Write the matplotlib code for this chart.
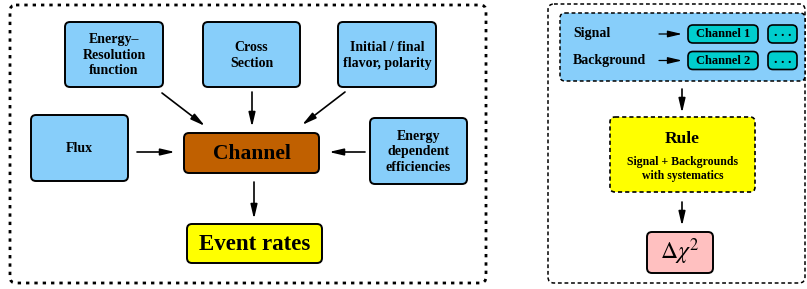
import numpy as np
import matplotlib
matplotlib.use("Agg")
import matplotlib.pyplot as plt
from matplotlib.patches import FancyBboxPatch

plt.rcParams['font.family'] = ['Liberation Serif', 'DejaVu Serif']
plt.rcParams['mathtext.fontset'] = 'stix'

# labels
input_labels = ["Energy\u2013\nResolution\nfunction", "Cross\nSection",
                "Initial / final\nflavor, polarity", "Flux",
                "Energy\ndependent\nefficiencies"]
channel_label = "Channel"
rates_label = "Event rates"
source_labels = ["Signal", "Background"]
channel_names = ["Channel 1", "Channel 2"]
rule_title = "Rule"
rule_text = "Signal + Backgrounds\nwith systematics"
result_label = r"$\Delta\chi^2$"

BLUE = "#87cefa"
BROWN = "#c06000"
YELLOW = "#ffff00"
TEAL = "#00cdcd"
PINK = "#ffc0c0"

W, H = 807, 289
fig = plt.figure(figsize=(W / 100, H / 100), dpi=100)
ax = fig.add_axes([0, 0, 1, 1])
ax.set_xlim(0, W)
ax.set_ylim(H, 0)
ax.axis("off")


def box(x0, y0, x1, y1, fc, lw=1.4, ls="-", r=5, z=2):
    p = FancyBboxPatch((x0, y0), x1 - x0, y1 - y0,
                       boxstyle=f"round,pad=0,rounding_size={r}",
                       fc=fc, ec="black", lw=lw, ls=ls, zorder=z)
    ax.add_patch(p)
    return p


def arrow(x0, y0, x1, y1, lw=1.2):
    ax.annotate("", xy=(x1, y1), xytext=(x0, y0),
                arrowprops=dict(arrowstyle="-|>,head_length=0.85,head_width=0.2",
                                color="black", lw=lw, shrinkA=0, shrinkB=0),
                zorder=5)


# outer frames
box(10, 5, 486, 283, "none", lw=2.0, ls=(0, (1.2, 1.8)), r=6, z=1)
box(548, 4, 805, 283, "none", lw=1.1, ls=(0, (2.5, 1.8)), r=6, z=1)

# left panel boxes
in_boxes = [(65, 22, 163, 87), (203, 22, 300, 87), (338, 22, 436, 87),
            (31, 115, 128, 181), (370, 118, 467, 184)]
for (x0, y0, x1, y1), lab in zip(in_boxes, input_labels):
    box(x0, y0, x1, y1, BLUE)
    ax.text((x0 + x1) / 2, (y0 + y1) / 2 + 1, lab, ha="center", va="center",
            fontsize=10, fontweight="bold", linespacing=1.25, zorder=6)

box(184, 133, 319, 173, BROWN)
ax.text(251.5, 154, channel_label, ha="center", va="center",
        fontsize=15.5, fontweight="bold", zorder=6)

box(187, 224, 322, 263, YELLOW)
ax.text(254.5, 245, rates_label, ha="center", va="center",
        fontsize=16.5, fontweight="bold", zorder=6)

arrow(162, 93, 205, 126)
arrow(252, 92, 252, 127)
arrow(345, 92, 302, 125)
arrow(137, 152, 175, 152)
arrow(365, 152, 329, 152)
arrow(254, 182, 254, 219)

# right panel
box(560, 13, 805, 81, BLUE, lw=1.1, ls=(0, (2.5, 1.8)), r=5)
for i, (src, ch) in enumerate(zip(source_labels, channel_names)):
    yc = 34 + i * 26.5
    ax.text(573, yc, src, ha="left", va="center", fontsize=10,
            fontweight="bold", zorder=6)
    arrow(659, yc, 682, yc, lw=0.9)
    box(688, yc - 9, 758, yc + 9, TEAL, lw=1.2, r=5)
    ax.text(723, yc, ch, ha="center", va="center", fontsize=9,
            fontweight="bold", zorder=6)
    box(768, yc - 9, 797, yc + 9, TEAL, lw=1.2, r=5)
    ax.text(782.5, yc - 1, ". . .", ha="center", va="center", fontsize=10,
            fontweight="bold", zorder=6)

arrow(682, 89, 682, 113)

box(610, 117, 755, 192, YELLOW, lw=1.2, ls=(0, (2.5, 1.8)), r=5)
ax.text(682.5, 139, rule_title, ha="center", va="center", fontsize=12.5,
        fontweight="bold", zorder=6)
ax.text(682.5, 169, rule_text, ha="center", va="center", fontsize=8.5,
        fontweight="bold", linespacing=1.2, zorder=6)

arrow(682, 202, 682, 226)

box(647, 232, 713, 273, PINK, r=5)
ax.text(680, 252, result_label, ha="center", va="center", fontsize=17,
        zorder=6)

fig.savefig("out.png", dpi=100)
